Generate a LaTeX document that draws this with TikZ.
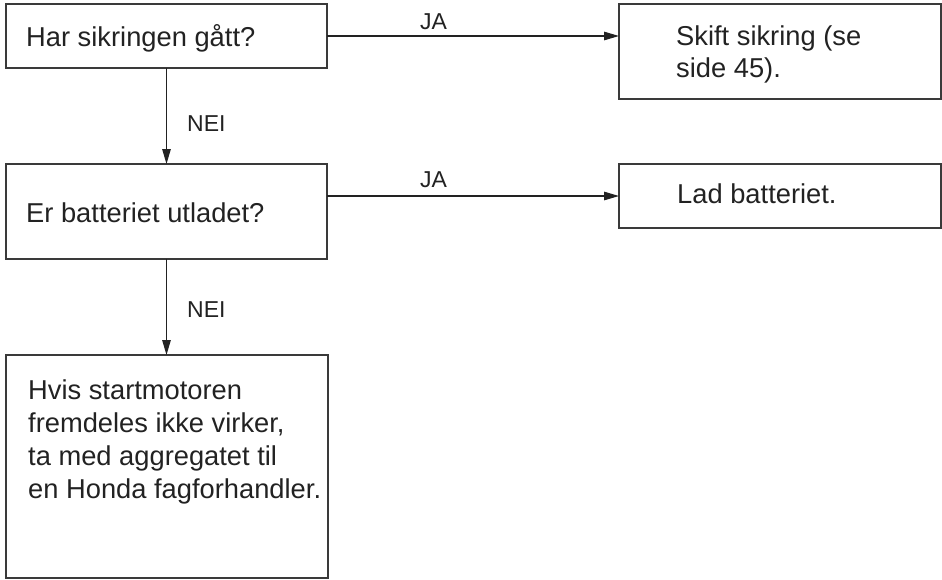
\documentclass[tikz,border=0pt]{standalone}
\usepackage{fontspec}
\setmainfont{Liberation Sans}
\usetikzlibrary{arrows.meta,calc}
\definecolor{ink}{HTML}{222222}
\definecolor{frame}{HTML}{3A3A3A}
\tikzset{
  box/.style={draw=frame, line width=1.2pt, rectangle, inner sep=0pt, outer sep=0pt},
  maintext/.style={anchor=base west, inner sep=0pt, text=ink, font=\fontsize{27.3}{33}\selectfont},
  lbl/.style={anchor=base west, inner sep=0pt, text=ink, font=\fontsize{23}{27}\selectfont},
  conn/.style={draw=ink, line width=1.2pt, -{Triangle[length=15pt,width=8.5pt]}}
}
\begin{document}
\begin{tikzpicture}[x=1pt,y=-1pt]
\useasboundingbox (0,0) rectangle (942,579);
% boxes
\node[box, minimum width=321pt, minimum height=64pt] (b1) at (166.5,36) {};
\node[box, minimum width=322pt, minimum height=95pt] (b2) at (780,51.5) {};
\node[box, minimum width=321pt, minimum height=95pt] (b3) at (166.5,211.5) {};
\node[box, minimum width=322pt, minimum height=64pt] (b4) at (780,196) {};
\node[box, minimum width=322pt, minimum height=223pt] (b5) at (167,466.5) {};
% texts
\node[maintext] (t1) at (26,46) {Har sikringen gått?};
\node[maintext] (t2) at (676,45) {\parbox[t]{250pt}{\baselineskip=32.5pt Skift sikring (se\\side 45).}};
\node[maintext] (t3) at (26,222) {Er batteriet utladet?};
\node[maintext] (t4) at (677,203) {Lad batteriet.};
\node[maintext] (t5) at (28,399) {\parbox[t]{300pt}{\baselineskip=33pt Hvis startmotoren\\fremdeles ikke virker,\\ta med aggregatet til\\en Honda fagforhandler.}};
% labels
\node[lbl] (ja1) at (420,29) {JA};
\node[lbl] (ja2) at (420,187) {JA};
\node[lbl] (nei1) at (187,131) {NEI};
\node[lbl] (nei2) at (187,317) {NEI};
% connectors
\draw[conn] (b1.east) -- (b1.east -| b2.west);
\draw[conn] (b4.west -| b3.east) -- (b4.west);
\draw[conn] (b1.south) -- (b3.north);
\draw[conn] (b3.south) -- (b5.north -| b3.south);
\end{tikzpicture}
\end{document}
